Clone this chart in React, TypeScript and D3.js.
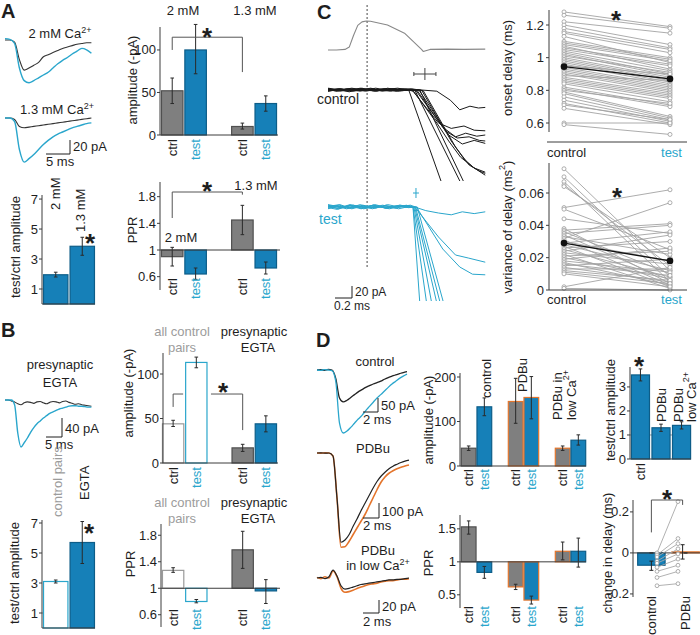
import React from "react";
import * as d3 from "d3";

const FONT = "'Liberation Sans', Arial, Helvetica, sans-serif";
const INK = "#1e1e1e";
const AXIS = "#3c3c3c";
const BLUE = "#1680b8";
const BLUE_EDGE = "#0d5d88";
const CYAN = "#2aa6cc";
const GRAY = "#7f7f7f";
const GRAY_EDGE = "#505050";
const ORANGE = "#e4752c";
const PALE = "#9c9c9c";

// ================= DATA =================
// Panel A traces (pA, 1 ms samples)
const aTrace2mMCtrl = [0, 0, -3, -28, -43, -40, -36, -32, -24, -21, -18, -15, -12, -10, -8, -6, -5, -4, -4];
const aTrace2mMTest = [2, 1, -5, -40, -58, -61, -58, -54, -50, -46, -40, -34, -29, -25, -20, -16, -12, -14, -19];
const aTrace13Ctrl = [0, 0, -2, -12, -14, -13, -12, -11, -10, -9, -8, -7, -6, -5, -4, -3, -2, -1, 0];
const aTrace13Test = [0, 0, -5, -45, -63, -58, -52, -45, -38, -32, -27, -23, -20, -17, -14, -12, -10, -8, -7];

const pairLabels = ["ctrl", "test", "ctrl", "test"];
const pairLabelColors = [INK, CYAN, INK, CYAN];

const aAmpValues = [52, 100, 10, 37];
const aAmpLo = [37, 72, 7, 28];
const aAmpHi = [67, 130, 14, 46];
const ampTicks = [0, 50, 100];

const aRatioValues = [1.95, 3.85];
const aRatioLo = [1.8, 3.25];
const aRatioHi = [2.12, 4.45];
const ratioTicks = [1, 3, 5, 7];

const aPprValues = [0.9, 0.64, 1.45, 0.73];
const aPprLo = [0.76, 0.56, 1.23, 0.64];
const aPprHi = [1.04, 0.73, 1.67, 0.82];
const pprTicks = [0.6, 1, 1.4, 1.8];

// Panel B
const bTraceCtrl = [0, 0, -2, -4, -8, -10, -6, -4, -5, -7, -4, -3, -6, -8, -5, -3, -4, -6, -3, -2, -5, -7, -9, -8, -10, -11, -12, -13];
const bTraceTest = [0, 0, 0, -10, -70, -99, -90, -80, -68, -58, -50, -44, -38, -33, -28, -25, -22, -19, -17, -15, -13, -12, -12, -13, -13, -14, -15, -15];

const bAmpValues = [44, 113, 17, 44];
const bAmpLo = [41, 107, 13, 35];
const bAmpHi = [48, 119, 21, 53];

const bRatioValues = [3.1, 5.7];
const bRatioLo = [3.0, 4.3];
const bRatioHi = [3.2, 7.1];

const bPprValues = [1.27, 0.8, 1.58, 0.96];
const bPprLo = [1.24, 0.78, 1.3, 0.77];
const bPprHi = [1.31, 0.83, 1.86, 1.13];

// Panel C: presynaptic AP (normalised) as [ms, value]
const cAP: [number, number][] = [
  [0, 0], [0.1, 0], [0.2, 0.02], [0.25, 0.1], [0.3, 0.5], [0.35, 0.85], [0.4, 0.97], [0.45, 1.0], [0.5, 0.99],
  [0.7, 0.86], [0.9, 0.58], [1.1, 0.02], [1.12, -0.05], [1.2, 0.02], [1.4, 0.03], [1.6, 0.02], [1.85, 0.03],
];
// control traces [ms, pA]
const cControlTraces: [number, number][][] = [
  [[0, 1], [0.1, -2], [0.22, 2], [0.35, -1], [0.5, 3], [0.62, 0], [0.75, 2], [0.88, -1], [0.95, 0], [1.35, -160]],
  [[0, -2], [0.12, 1], [0.25, -3], [0.4, 2], [0.52, -1], [0.66, 2], [0.8, -2], [0.92, 1], [1.02, 0], [1.58, -160]],
  [[0, 2], [0.1, -1], [0.28, 3], [0.42, 0], [0.58, -2], [0.7, 3], [0.84, 0], [0.98, 2], [1.08, 0], [1.62, -160]],
  [[0, 0], [0.15, 2], [0.3, -2], [0.46, 2], [0.6, 0], [0.74, -2], [0.9, 2], [1.1, 0], [1.28, -2], [1.44, -17], [1.55, -33], [1.67, -27], [1.77, -30], [1.85, -29]],
  [[0, -1], [0.14, 2], [0.27, -1], [0.4, 3], [0.55, -2], [0.68, 1], [0.82, 3], [0.95, 0], [1.0, -2], [1.3, -55], [1.45, -64], [1.6, -60], [1.72, -67], [1.85, -68]],
  [[0, 1], [0.1, -1], [0.24, 1], [0.38, -2], [0.5, 2], [0.64, -1], [0.78, 2], [0.92, 0], [1.03, 0], [1.35, -62], [1.5, -78], [1.62, -72], [1.75, -77], [1.85, -75]],
  [[0, 3], [0.16, 0], [0.3, 2], [0.44, -2], [0.58, 1], [0.72, -1], [0.86, 2], [1.0, 0], [1.05, -1], [1.38, -68], [1.52, -80], [1.66, -78], [1.78, -84], [1.85, -85]],
  [[0, -1], [0.12, 2], [0.26, 0], [0.38, 3], [0.52, -1], [0.66, 2], [0.8, 0], [0.96, -1], [1.07, 0], [1.42, -75], [1.58, -90], [1.72, -84], [1.85, -89]],
  [[0, 0], [0.14, -2], [0.28, 1], [0.42, -1], [0.56, 3], [0.7, 0], [0.84, -2], [0.98, 1], [1.1, 0], [1.45, -85], [1.6, -115], [1.72, -130], [1.85, -137]],
  [[0, 2], [0.12, 0], [0.24, -2], [0.4, 1], [0.54, -1], [0.68, 2], [0.82, -1], [0.96, 0], [1.12, -1], [1.5, -95], [1.66, -125], [1.78, -135], [1.85, -139]],
  [[0, -2], [0.1, 0], [0.26, 2], [0.4, -1], [0.52, 1], [0.64, -2], [0.78, 1], [0.9, 0], [1.0, -1], [1.28, -55], [1.42, -85], [1.56, -112], [1.7, -128], [1.85, -142]],
];
const cTestTraces: [number, number][][] = [
  [[0, 2], [0.12, -3], [0.26, 3], [0.4, -2], [0.55, 4], [0.7, -1], [0.85, 3], [1.0, 0], [1.08, -160]],
  [[0, -3], [0.1, 2], [0.24, -2], [0.38, 4], [0.52, -3], [0.66, 2], [0.8, -2], [0.92, 3], [1.0, 0], [1.16, -160]],
  [[0, 1], [0.14, 4], [0.28, -3], [0.42, 2], [0.56, -2], [0.7, 4], [0.84, 0], [0.96, 2], [1.01, 0], [1.22, -160]],
  [[0, -1], [0.11, -4], [0.25, 2], [0.39, -3], [0.53, 3], [0.68, -2], [0.82, 2], [0.95, -1], [1.02, 0], [1.28, -160]],
  [[0, 4], [0.15, 0], [0.3, 3], [0.44, -2], [0.58, 2], [0.72, -3], [0.86, 1], [0.97, 3], [1.03, 0], [1.32, -160]],
  [[0, 0], [0.13, 3], [0.27, -2], [0.41, 3], [0.55, -1], [0.69, 2], [0.83, -3], [0.96, 1], [1.05, 0], [1.36, -160]],
  [[0, -2], [0.1, 1], [0.22, -3], [0.36, 2], [0.5, -2], [0.64, 3], [0.78, 0], [0.92, 2], [1.02, 0], [1.15, -6], [1.3, -10], [1.45, -13], [1.58, -8], [1.72, -11], [1.85, -8]],
  [[0, 3], [0.14, -1], [0.28, 2], [0.42, -3], [0.56, 1], [0.7, -2], [0.84, 3], [0.97, 0], [1.02, 0], [1.3, -50], [1.5, -80], [1.65, -85], [1.85, -92]],
  [[0, 1], [0.12, -2], [0.26, 4], [0.4, 0], [0.54, 3], [0.68, -2], [0.82, 1], [0.95, -1], [1.04, 0], [1.35, -70], [1.55, -100], [1.7, -112], [1.85, -113]],
];
const cOnsetMean = [1.14, 1.035]; // ms (control, test)
const cOnsetSd = [0.13, 0.035];

const onsetControl = [1.28, 1.26, 1.22, 1.2, 1.18, 1.16, 1.15, 1.13, 1.1, 1.09, 1.08, 1.07, 1.06, 1.05, 1.04, 1.03, 1.02, 1.01, 1.0, 0.99, 0.98, 0.97, 0.96, 0.95, 0.94, 0.93, 0.92, 0.91, 0.9, 0.89, 0.88, 0.87, 0.86, 0.85, 0.84, 0.82, 0.81, 0.8, 0.79, 0.78, 0.76, 0.74, 0.72, 0.71, 0.69, 0.6, 0.59];
const onsetTest = [1.19, 1.18, 1.15, 1.08, 1.06, 1.05, 1.03, 0.97, 1.0, 0.99, 0.98, 0.93, 0.96, 0.95, 0.92, 0.9, 0.89, 0.91, 0.88, 0.87, 0.86, 0.85, 0.84, 0.9, 0.83, 0.82, 0.81, 0.8, 0.79, 0.86, 0.78, 0.77, 0.76, 0.75, 0.73, 0.71, 0.7, 0.72, 0.64, 0.63, 0.62, 0.61, 0.6, 0.62, 0.59, 0.6, 0.53];
const onsetMeans = [0.945, 0.87];
const onsetErr = [0.012, 0.012];
const onsetTicks = [0.6, 0.8, 1, 1.2];

const varControl = [0.075, 0.07, 0.067, 0.065, 0.064, 0.051, 0.05, 0.044, 0.038, 0.037, 0.036, 0.035, 0.034, 0.033, 0.032, 0.031, 0.03, 0.029, 0.028, 0.027, 0.026, 0.025, 0.024, 0.023, 0.022, 0.021, 0.02, 0.019, 0.018, 0.017, 0.016, 0.015, 0.014, 0.013, 0.012, 0.011, 0.01, 0.002, 0.001];
const varTest = [0.012, 0.008, 0.005, 0.015, 0.02, 0.062, 0.025, 0.035, 0.004, 0.041, 0.01, 0.04, 0.006, 0.022, 0.054, 0.003, 0.018, 0.036, 0.012, 0.002, 0.03, 0.008, 0.034, 0.016, 0.001, 0.024, 0.007, 0.026, 0.011, 0.003, 0.009, 0.019, 0.005, 0.013, 0.006, 0.004, 0.002, 0.014, 0.0];
const varMeans = [0.029, 0.018];
const varErr = [0.002, 0.0018];
const varTicks = [0, 0.02, 0.04, 0.06];

// Panel D traces (pA, 0.5 ms samples)
const dCtrlBlack = [0, 1, -1, 2, 0, -30, -100, -114, -108, -98, -88, -78, -70, -62, -56, -50, -45, -40, -33, -27, -22, -17, -13, -9, -6];
const dCtrlTest = [0, -1, 1, 0, -2, -40, -190, -225, -218, -205, -190, -175, -162, -145, -130, -115, -100, -88, -75, -62, -50, -40, -30, -22, -15];
const dPdbuBlack = [0, 1, -1, 0, -20, -300, -595, -580, -545, -490, -440, -385, -335, -285, -235, -190, -155, -128, -105, -88, -75, -63, -54, -47];
const dPdbuOrange = [0, -1, 1, 0, -20, -300, -628, -625, -590, -545, -500, -455, -410, -355, -300, -245, -195, -160, -135, -118, -105, -95, -86, -80];
const dLowBlack = [0, 1, -1, 2, 12, 3, -12, -17, -16, -14, -12, -10, -9, -8, -7, -6, -5, -4, -3, -3, -2, -2, -1, 0];
const dLowOrange = [1, -1, 2, 0, 11, 2, -16, -22, -21, -19, -16, -14, -12, -10, -9, -8, -6, -5, -4, -4, -3, -2, -2, -1];

const dGroupLabels = ["ctrl", "test", "ctrl", "test", "ctrl", "test"];
const dGroupLabelColors = [INK, CYAN, INK, CYAN, INK, CYAN];
const dAmpValues = [40, 133, 145, 154, 40, 58];
const dAmpLo = [35, 113, 96, 106, 35, 47];
const dAmpHi = [45, 153, 197, 201, 45, 70];
const dAmpTicks = [0, 100, 200];

const dPprValues = [1.53, 0.84, 0.62, 0.42, 1.16, 1.16];
const dPprLo = [1.42, 0.75, 0.58, 0.36, 1.03, 0.92];
const dPprHi = [1.62, 0.93, 0.66, 0.48, 1.3, 1.36];
const dPprTicks = [0.5, 1, 1.5];

const dRatioValues = [3.5, 1.3, 1.4];
const dRatioLo = [3.25, 1.15, 1.25];
const dRatioHi = [3.75, 1.45, 1.55];
const dRatioTicks = [0, 1, 2, 3];

const dDelayValues = [-0.06, 0.005];
const dDelayLo = [-0.085, -0.03];
const dDelayHi = [-0.04, 0.04];
const dDelayTicks = [-0.2, 0, 0.2];
const dDelayCtrl = [0.0, -0.01, -0.02, -0.04, -0.05, -0.07, -0.09, -0.12, -0.16];
const dDelayPdbu = [0.25, 0.07, 0.045, 0.02, -0.005, -0.03, -0.06, -0.09, -0.15];

// ================= HELPERS =================
function Txt({ x, y, children, size = 13, anchor = "start", color = INK, weight = "normal" }: any) {
  return (
    <text x={x} y={y} fontSize={size} textAnchor={anchor} fill={color} fontWeight={weight} fontFamily={FONT}>
      {children}
    </text>
  );
}
function RTxt({ x, y, children, size = 13, anchor = "start", color = INK }: any) {
  return (
    <text transform={`translate(${x},${y}) rotate(-90)`} fontSize={size} textAnchor={anchor}
      dominantBaseline="central" fill={color} fontFamily={FONT}>
      {children}
    </text>
  );
}
function Star({ cx, cy, size = 26 }: any) {
  return (
    <text x={cx} y={cy + size * 0.58} fontSize={size} textAnchor="middle" fontWeight="bold" fill={INK} fontFamily={FONT}>*</text>
  );
}
const Sup = ({ t }: any) => (
  <tspan dy={-5} fontSize={9}>{t}</tspan>
);

function scalesFor(p: any) {
  const y = d3.scaleLinear().domain(p.domain).range([p.yBottom, p.yTop]);
  const x = d3.scaleBand<number>().domain(d3.range(p.nSlots)).range(p.band)
    .paddingInner(p.pad ?? 0.08).paddingOuter(0.02);
  return { x, y };
}

function BarChart(p: any) {
  const { x, y } = scalesFor(p);
  const bw = x.bandwidth();
  const fs = p.fs ?? 13;
  return (
    <g>
      {p.refLine !== undefined && (
        <line x1={p.x0} x2={p.axisEnd} y1={y(p.refLine)} y2={y(p.refLine)} stroke="#8a8a8a" strokeDasharray="2,2" strokeWidth={0.9} />
      )}
      {p.values.map((v: number, i: number) => {
        const xl = x(p.slots[i])!;
        const y1 = y(Math.max(v, p.base));
        const y2 = y(Math.min(v, p.base));
        return <rect key={"b" + i} x={xl} y={y1} width={bw} height={Math.max(0.8, y2 - y1)} fill={p.fills[i]} stroke={p.strokes[i]} strokeWidth={1.2} />;
      })}
      {p.values.map((v: number, i: number) => {
        const cx = x(p.slots[i])! + bw / 2;
        return (
          <g key={"e" + i} stroke="#2a2a2a" strokeWidth={1}>
            <line x1={cx} x2={cx} y1={y(p.lo[i])} y2={y(p.hi[i])} />
            <line x1={cx - 1.8} x2={cx + 1.8} y1={y(p.lo[i])} y2={y(p.lo[i])} />
            <line x1={cx - 1.8} x2={cx + 1.8} y1={y(p.hi[i])} y2={y(p.hi[i])} />
          </g>
        );
      })}
      <line x1={p.x0} x2={p.x0} y1={p.yTop} y2={p.yBottom} stroke={AXIS} strokeWidth={1} />
      <line x1={p.x0} x2={p.axisEnd} y1={y(p.base)} y2={y(p.base)} stroke={AXIS} strokeWidth={1} />
      {p.ticks.map((t: number) => (
        <g key={"t" + t}>
          <line x1={p.x0 - 3} x2={p.x0} y1={y(t)} y2={y(t)} stroke={AXIS} />
          <text x={p.x0 - 4} y={y(t)} fontSize={fs} textAnchor="end" dominantBaseline="central" fill={INK} fontFamily={FONT}>{String(t)}</text>
        </g>
      ))}
      {p.labels && p.labels.map((l: string, i: number) => (
        l ? <RTxt key={"l" + i} x={x(p.slots[i])! + bw / 2} y={p.labelY} anchor="end" color={p.labelColors[i]} size={p.lfs ?? 13}>{l}</RTxt> : null
      ))}
    </g>
  );
}

function SampledTrace({ values, step, xScale, yScale, color, width = 1.1 }: any) {
  const line = d3.line<number>().x((_, i) => xScale(i * step)).y((v) => yScale(v)).curve(d3.curveMonotoneX);
  return <path d={line(values) || ""} fill="none" stroke={color} strokeWidth={width} />;
}
function KeyTrace({ points, xScale, yScale, color, width = 1 }: any) {
  const line = d3.line<[number, number]>().x((d) => xScale(d[0])).y((d) => yScale(d[1]));
  return <path d={line(points) || ""} fill="none" stroke={color} strokeWidth={width} strokeLinejoin="round" />;
}

// ================= LAYOUT CONFIGS =================
const aAmpCfg = { x0: 160, yTop: 27, yBottom: 135, domain: [0, 127], band: [161, 277], nSlots: 5, slots: [0, 1, 3, 4], base: 0, axisEnd: 278, labelY: 139 };
const aPprCfg = { x0: 160, yTop: 182, yBottom: 290, domain: [0.4, 2.02], band: [161, 277], nSlots: 5, slots: [0, 1, 3, 4], base: 1, axisEnd: 280, labelY: 278 };
const aRatioCfg = { x0: 42, yTop: 195, yBottom: 304, domain: [0, 7.27], band: [43, 95], nSlots: 2, slots: [0, 1], base: 0, axisEnd: 95, refLine: 1 };
const bAmpCfg = { x0: 163, yTop: 353, yBottom: 463, domain: [0, 123.6], band: [162, 277], nSlots: 5, slots: [0, 1, 3, 4], base: 0, axisEnd: 278, labelY: 467 };
const bRatioCfg = { x0: 42, yTop: 520, yBottom: 628, domain: [0, 7.2], band: [43, 95], nSlots: 2, slots: [0, 1], base: 0, axisEnd: 95, refLine: 1 };
const bPprCfg = { x0: 161, yTop: 524, yBottom: 627, domain: [0.415, 1.97], band: [162, 277], nSlots: 5, slots: [0, 1, 3, 4], base: 1, axisEnd: 280, labelY: 609 };
const dAmpCfg = { x0: 460, yTop: 373, yBottom: 466, domain: [0, 209], band: [461, 586], nSlots: 8, slots: [0, 1, 3, 4, 6, 7], pad: 0.06, base: 0, axisEnd: 586, labelY: 469 };
const dPprCfg = { x0: 460, yTop: 515, yBottom: 608, domain: [0.3, 1.71], band: [461, 586], nSlots: 8, slots: [0, 1, 3, 4, 6, 7], pad: 0.06, base: 1, axisEnd: 586, labelY: 606 };
const dRatioCfg = { x0: 630, yTop: 367, yBottom: 459, domain: [0, 3.83], band: [631, 691], nSlots: 3, slots: [0, 1, 2], pad: 0.12, base: 0, axisEnd: 691, refLine: 1, labelY: 463 };
const dDelayCfg = { x0: 633, yTop: 500, yBottom: 597, domain: [-0.215, 0.258], band: [637, 700], nSlots: 2, slots: [0, 1], pad: 0.2, base: 0, axisEnd: 700, labelY: 596 };

function center(cfg: any, slotIdx: number) {
  const { x } = scalesFor(cfg);
  return x(cfg.slots[slotIdx])! + x.bandwidth() / 2;
}

// ================= PANELS =================
function PanelA() {
  const tx = d3.scaleLinear().domain([0, 18]).range([5, 91.4]);
  const y1 = d3.scaleLinear().domain([0, -20]).range([40, 54]);
  const y2 = d3.scaleLinear().domain([0, -20]).range([118, 132]);
  const amp = scalesFor(aAmpCfg);
  const ppr = scalesFor(aPprCfg);
  const a0 = center(aAmpCfg, 0), a3 = center(aAmpCfg, 2);
  const p0 = center(aPprCfg, 0), p3 = center(aPprCfg, 2);
  const barPx = y1(-20) - y1(0);
  const msPx = tx(5) - tx(0);
  return (
    <g>
      <Txt x={1} y={18} size={20} weight="bold">A</Txt>
      <Txt x={60} y={38} anchor="middle" size={13}>2 mM Ca<Sup t="2+" /></Txt>
      <SampledTrace values={aTrace2mMCtrl} step={1} xScale={tx} yScale={y1} color="#333" />
      <SampledTrace values={aTrace2mMTest} step={1} xScale={tx} yScale={y1} color={CYAN} width={1.4} />
      <Txt x={57} y={114} anchor="middle" size={13}>1.3 mM Ca<Sup t="2+" /></Txt>
      <SampledTrace values={aTrace13Ctrl} step={1} xScale={tx} yScale={y2} color="#333" />
      <SampledTrace values={aTrace13Test} step={1} xScale={tx} yScale={y2} color={CYAN} width={1.4} />
      <path d={`M${70 - msPx},${140 + barPx} H70 V140`} fill="none" stroke={INK} strokeWidth={1} />
      <Txt x={73} y={151} size={13}>20 pA</Txt>
      <Txt x={46} y={166} size={13}>5 ms</Txt>

      <Txt x={183} y={15} anchor="middle" size={13}>2 mM</Txt>
      <Txt x={255} y={15} anchor="middle" size={13}>1.3 mM</Txt>
      <BarChart {...aAmpCfg} ticks={ampTicks} values={aAmpValues} lo={aAmpLo} hi={aAmpHi}
        fills={[GRAY, BLUE, GRAY, BLUE]} strokes={[GRAY_EDGE, BLUE_EDGE, GRAY_EDGE, BLUE_EDGE]}
        labels={pairLabels} labelColors={pairLabelColors} />
      <path d={`M${a0},${amp.y(100)} V${amp.y(115)} H${a3} V${amp.y(74)}`} fill="none" stroke="#555" strokeWidth={1} />
      <Star cx={207} cy={31} />
      <RTxt x={132} y={80} anchor="middle" size={13}>amplitude (-pA)</RTxt>

      <BarChart {...aRatioCfg} ticks={ratioTicks} values={aRatioValues} lo={aRatioLo} hi={aRatioHi}
        fills={[BLUE, BLUE]} strokes={[BLUE_EDGE, BLUE_EDGE]} />
      <RTxt x={15} y={247} anchor="middle" size={13}>test/ctrl amplitude</RTxt>
      <RTxt x={center(aRatioCfg, 0)} y={210} anchor="start" size={13}>2 mM</RTxt>
      <RTxt x={center(aRatioCfg, 1) - 2} y={232} anchor="start" size={13}>1.3 mM</RTxt>
      <Star cx={90} cy={237} />

      <BarChart {...aPprCfg} ticks={pprTicks} values={aPprValues} lo={aPprLo} hi={aPprHi}
        fills={[GRAY, BLUE, GRAY, BLUE]} strokes={[GRAY_EDGE, BLUE_EDGE, GRAY_EDGE, BLUE_EDGE]}
        labels={pairLabels} labelColors={pairLabelColors} />
      <path d={`M${p0},${ppr.y(1.48)} V${ppr.y(1.87)} H${p3} V${ppr.y(1.83)}`} fill="none" stroke="#555" strokeWidth={1} />
      <Star cx={207} cy={185} />
      <Txt x={256} y={190} anchor="middle" size={13}>1.3 mM</Txt>
      <Txt x={181} y={242} anchor="middle" size={13}>2 mM</Txt>
      <RTxt x={132} y={230} anchor="middle" size={13}>PPR</RTxt>
    </g>
  );
}

function PanelB() {
  const tx = d3.scaleLinear().domain([0, 27]).range([5, 91.4]);
  const ty = d3.scaleLinear().domain([0, -40]).range([400, 419]);
  const amp = scalesFor(bAmpCfg);
  const c0 = center(bAmpCfg, 0), c1 = center(bAmpCfg, 1), c3 = center(bAmpCfg, 2);
  const bw = amp.x.bandwidth();
  const barPx = ty(-40) - ty(0);
  const msPx = tx(5) - tx(0);
  return (
    <g>
      <Txt x={1} y={337} size={20} weight="bold">B</Txt>
      <Txt x={60} y={369} anchor="middle" size={13}>presynaptic</Txt>
      <Txt x={60} y={387} anchor="middle" size={13}>EGTA</Txt>
      <SampledTrace values={bTraceCtrl} step={1} xScale={tx} yScale={ty} color="#333" />
      <SampledTrace values={bTraceTest} step={1} xScale={tx} yScale={ty} color={CYAN} width={1.4} />
      <path d={`M${62 - msPx},${418 + barPx} H62 V418`} fill="none" stroke={INK} strokeWidth={1} />
      <Txt x={65} y={433} size={13}>40 pA</Txt>
      <Txt x={45} y={449} size={13}>5 ms</Txt>

      <Txt x={182} y={336} anchor="middle" size={13} color={PALE}>all control</Txt>
      <Txt x={182} y={352} anchor="middle" size={13} color={PALE}>pairs</Txt>
      <Txt x={254} y={336} anchor="middle" size={13}>presynaptic</Txt>
      <Txt x={258} y={352} anchor="middle" size={13}>EGTA</Txt>
      <BarChart {...bAmpCfg} ticks={ampTicks} values={bAmpValues} lo={bAmpLo} hi={bAmpHi}
        fills={["#fff", "#fff", GRAY, BLUE]} strokes={["#9a9a9a", CYAN, GRAY_EDGE, BLUE_EDGE]}
        labels={pairLabels} labelColors={pairLabelColors} />
      <path d={`M${c0},${amp.y(63)} V${amp.y(77.5)} H${c0 + 10}`} fill="none" stroke="#555" strokeWidth={1} />
      <path d={`M${c1 + bw / 2 + 4},${amp.y(77.5)} H${c3} V${amp.y(37)}`} fill="none" stroke="#555" strokeWidth={1} />
      <Star cx={223} cy={386} />
      <RTxt x={128} y={393} anchor="middle" size={13}>amplitude (-pA)</RTxt>

      <BarChart {...bRatioCfg} ticks={ratioTicks} values={bRatioValues} lo={bRatioLo} hi={bRatioHi}
        fills={["#fff", BLUE]} strokes={[CYAN, BLUE_EDGE]} />
      <RTxt x={14} y={573} anchor="middle" size={13}>test/ctrl amplitude</RTxt>
      <RTxt x={center(bRatioCfg, 0) + 2} y={517} anchor="start" size={13} color={PALE}>control pairs</RTxt>
      <RTxt x={center(bRatioCfg, 1) + 2} y={500} anchor="start" size={13}>EGTA</RTxt>
      <Star cx={89} cy={527} />

      <Txt x={182} y={507} anchor="middle" size={13} color={PALE}>all control</Txt>
      <Txt x={182} y={523} anchor="middle" size={13} color={PALE}>pairs</Txt>
      <Txt x={254} y={507} anchor="middle" size={13}>presynaptic</Txt>
      <Txt x={258} y={523} anchor="middle" size={13}>EGTA</Txt>
      <BarChart {...bPprCfg} ticks={pprTicks} values={bPprValues} lo={bPprLo} hi={bPprHi}
        fills={["#fff", "#fff", GRAY, BLUE]} strokes={["#9a9a9a", CYAN, GRAY_EDGE, BLUE_EDGE]}
        labels={pairLabels} labelColors={pairLabelColors} />
      <RTxt x={130} y={564} anchor="middle" size={13}>PPR</RTxt>
    </g>
  );
}

function PanelC() {
  const tx = d3.scaleLinear().domain([0, 1.85]).range([328, 485.25]);
  const apY = d3.scaleLinear().domain([0, 1]).range([50, 21]);
  const ctrlY = d3.scaleLinear().domain([0, -20]).range([90, 102]);
  const testY = d3.scaleLinear().domain([0, -20]).range([207, 219]);
  const barPx = ctrlY(-20) - ctrlY(0);
  const msPx = tx(0.2) - tx(0);
  const dotX = tx(0.46);

  const pairX = d3.scalePoint().domain(["control", "test"]).range([564, 670]);
  const onY = d3.scaleLinear().domain([0.6, 1.2]).range([123, 25]);
  const varY = d3.scaleLinear().domain([0, 0.06]).range([290, 193]);
  const xc = pairX("control")!, xt = pairX("test")!;

  const pairPanel = (ctrl: number[], test: number[], means: number[], errs: number[], y: any) => (
    <g>
      {ctrl.map((v, i) => (
        <line key={"l" + i} x1={xc} x2={xt} y1={y(v)} y2={y(test[i])} stroke="#a3a3a3" strokeWidth={0.9} />
      ))}
      {ctrl.map((v, i) => (
        <g key={"p" + i}>
          <circle cx={xc} cy={y(v)} r={2} fill="#fff" stroke="#9a9a9a" strokeWidth={0.8} />
          <circle cx={xt} cy={y(test[i])} r={2} fill="#fff" stroke="#9a9a9a" strokeWidth={0.8} />
        </g>
      ))}
      <line x1={xc} x2={xt} y1={y(means[0])} y2={y(means[1])} stroke="#111" strokeWidth={1.4} />
      {[xc, xt].map((xx, i) => (
        <g key={"m" + i}>
          <line x1={xx} x2={xx} y1={y(means[i] - errs[i])} y2={y(means[i] + errs[i])} stroke="#111" strokeWidth={1.2} />
          <circle cx={xx} cy={y(means[i])} r={3.3} fill="#111" />
        </g>
      ))}
    </g>
  );

  return (
    <g>
      <Txt x={317} y={19} size={20} weight="bold">C</Txt>
      <line x1={dotX} x2={dotX} y1={5} y2={268} stroke="#333" strokeDasharray="2,2" strokeWidth={0.9} />
      <KeyTrace points={cAP} xScale={tx} yScale={apY} color="#888" width={1.1} />
      <defs>
        <clipPath id="clipCtrl"><rect x={320} y={60} width={170} height={121} /></clipPath>
        <clipPath id="clipTest"><rect x={320} y={180} width={170} height={121} /></clipPath>
      </defs>
      <g clipPath="url(#clipCtrl)">
        {cControlTraces.map((tr, i) => (
          <KeyTrace key={i} points={tr} xScale={tx} yScale={ctrlY} color="#1a1a1a" width={1} />
        ))}
      </g>
      <g clipPath="url(#clipTest)">
        {cTestTraces.map((tr, i) => (
          <KeyTrace key={i} points={tr} xScale={tx} yScale={testY} color={CYAN} width={1} />
        ))}
      </g>
      <g stroke="#444" strokeWidth={1}>
        <line x1={tx(cOnsetMean[0] - cOnsetSd[0])} x2={tx(cOnsetMean[0] + cOnsetSd[0])} y1={74} y2={74} />
        <line x1={tx(cOnsetMean[0])} x2={tx(cOnsetMean[0])} y1={68} y2={80} />
        <line x1={tx(cOnsetMean[0] - cOnsetSd[0])} x2={tx(cOnsetMean[0] - cOnsetSd[0])} y1={72} y2={76} />
        <line x1={tx(cOnsetMean[0] + cOnsetSd[0])} x2={tx(cOnsetMean[0] + cOnsetSd[0])} y1={72} y2={76} />
      </g>
      <g stroke={CYAN} strokeWidth={1}>
        <line x1={tx(cOnsetMean[1] - cOnsetSd[1])} x2={tx(cOnsetMean[1] + cOnsetSd[1])} y1={193} y2={193} />
        <line x1={tx(cOnsetMean[1])} x2={tx(cOnsetMean[1])} y1={188} y2={198} />
      </g>
      <Txt x={317} y={104} size={14}>control</Txt>
      <Txt x={319} y={224} size={14} color={CYAN}>test</Txt>
      <path d={`M${352 - msPx},${286 + barPx} H352 V286`} fill="none" stroke={INK} strokeWidth={1} />
      <Txt x={355} y={296} size={12}>20 pA</Txt>
      <Txt x={334} y={310} size={12}>0.2 ms</Txt>

      {pairPanel(onsetControl, onsetTest, onsetMeans, onsetErr, onY)}
      <line x1={549} x2={549} y1={10} y2={132} stroke={AXIS} />
      {onsetTicks.map((t) => (
        <g key={t}>
          <line x1={546} x2={549} y1={onY(t)} y2={onY(t)} stroke={AXIS} />
          <text x={544} y={onY(t)} fontSize={13} textAnchor="end" dominantBaseline="central" fontFamily={FONT} fill={INK}>{String(t)}</text>
        </g>
      ))}
      <line x1={547} x2={687} y1={142} y2={142} stroke={AXIS} />
      <Txt x={547} y={157} size={13}>control</Txt>
      <Txt x={682} y={157} size={13} anchor="end" color={CYAN}>test</Txt>
      <Star cx={616} cy={14} />
      <RTxt x={507} y={68} anchor="middle" size={13}>onset delay (ms)</RTxt>

      {pairPanel(varControl, varTest, varMeans, varErr, varY)}
      <line x1={549} x2={549} y1={163} y2={290} stroke={AXIS} />
      {varTicks.map((t) => (
        <g key={t}>
          <line x1={546} x2={549} y1={varY(t)} y2={varY(t)} stroke={AXIS} />
          <text x={544} y={varY(t)} fontSize={13} textAnchor="end" dominantBaseline="central" fontFamily={FONT} fill={INK}>{String(t)}</text>
        </g>
      ))}
      <line x1={549} x2={687} y1={290} y2={290} stroke={AXIS} />
      <Txt x={547} y={304} size={13}>control</Txt>
      <Txt x={682} y={304} size={13} anchor="end" color={CYAN}>test</Txt>
      <Star cx={617} cy={191} />
      <RTxt x={507} y={227} anchor="middle" size={13}>variance of delay (ms<Sup t="2" /><tspan dy={5}>)</tspan></RTxt>
    </g>
  );
}

function PanelD() {
  const cx = d3.scaleLinear().domain([0, 12]).range([317, 407]);
  const cy = d3.scaleLinear().domain([0, -50]).range([370, 384]);
  const px = d3.scaleLinear().domain([0, 11.5]).range([317, 409]);
  const py = d3.scaleLinear().domain([0, -100]).range([453, 468]);
  const ly = d3.scaleLinear().domain([0, -20]).range([578, 591]);
  const ctrlBar = cy(-50) - cy(0), pdbuBar = py(-100) - py(0), lowBar = ly(-20) - ly(0);
  const ms2c = cx(2) - cx(0), ms2p = px(2) - px(0);

  const del = scalesFor(dDelayCfg);
  const d0 = center(dDelayCfg, 0), d1 = center(dDelayCfg, 1);
  const pairX = d3.scalePoint().domain(["control", "PDBu"]).range([657, 678]);
  const pc = pairX("control")!, pp = pairX("PDBu")!;

  return (
    <g>
      <Txt x={316} y={347} size={20} weight="bold">D</Txt>
      <Txt x={375} y={366} anchor="middle" size={13}>control</Txt>
      <SampledTrace values={dCtrlBlack} step={0.5} xScale={cx} yScale={cy} color="#222" width={1.3} />
      <SampledTrace values={dCtrlTest} step={0.5} xScale={cx} yScale={cy} color={CYAN} width={1.3} />
      <path d={`M${378 - ms2c},${398 + ctrlBar} H378 V398`} fill="none" stroke={INK} strokeWidth={1} />
      <Txt x={381} y={410} size={13}>50 pA</Txt>
      <Txt x={363} y={424} size={13}>2 ms</Txt>

      <Txt x={373} y={453} anchor="middle" size={13}>PDBu</Txt>
      <SampledTrace values={dPdbuOrange} step={0.5} xScale={px} yScale={py} color={ORANGE} width={1.6} />
      <SampledTrace values={dPdbuBlack} step={0.5} xScale={px} yScale={py} color="#222" width={1.2} />
      <path d={`M${379 - ms2p},${503 + pdbuBar} H379 V503`} fill="none" stroke={INK} strokeWidth={1} />
      <Txt x={382} y={516} size={13}>100 pA</Txt>
      <Txt x={363} y={530} size={13}>2 ms</Txt>

      <Txt x={378} y={555} anchor="middle" size={13}>PDBu</Txt>
      <Txt x={378} y={570} anchor="middle" size={13}>in low Ca<Sup t="2+" /></Txt>
      <SampledTrace values={dLowOrange} step={0.5} xScale={px} yScale={ly} color={ORANGE} width={1.6} />
      <SampledTrace values={dLowBlack} step={0.5} xScale={px} yScale={ly} color="#222" width={1.2} />
      <path d={`M${379 - ms2p},${600 + lowBar} H379 V600`} fill="none" stroke={INK} strokeWidth={1} />
      <Txt x={382} y={611} size={13}>20 pA</Txt>
      <Txt x={363} y={626} size={13}>2 ms</Txt>

      <BarChart {...dAmpCfg} ticks={dAmpTicks} values={dAmpValues} lo={dAmpLo} hi={dAmpHi}
        fills={[GRAY, BLUE, GRAY, BLUE, GRAY, BLUE]} strokes={[GRAY_EDGE, BLUE_EDGE, ORANGE, ORANGE, ORANGE, BLUE_EDGE]}
        labels={dGroupLabels} labelColors={dGroupLabelColors} />
      <RTxt x={428} y={420} anchor="middle" size={13}>amplitude (-pA)</RTxt>
      <RTxt x={center(dAmpCfg, 1) + 2} y={398} anchor="start" size={13}>control</RTxt>
      <RTxt x={center(dAmpCfg, 3) - 9} y={392} anchor="start" size={13}>PDBu</RTxt>
      <RTxt x={557} y={420} anchor="start" size={13}>PDBu in</RTxt>
      <RTxt x={571} y={420} anchor="start" size={13}>low Ca<Sup t="2+" /></RTxt>

      <BarChart {...dPprCfg} ticks={dPprTicks} values={dPprValues} lo={dPprLo} hi={dPprHi}
        fills={[GRAY, BLUE, GRAY, BLUE, GRAY, BLUE]} strokes={[GRAY_EDGE, BLUE_EDGE, ORANGE, ORANGE, ORANGE, BLUE_EDGE]}
        labels={dGroupLabels} labelColors={dGroupLabelColors} />
      <RTxt x={428} y={563} anchor="middle" size={13}>PPR</RTxt>

      <BarChart {...dRatioCfg} ticks={dRatioTicks} values={dRatioValues} lo={dRatioLo} hi={dRatioHi}
        fills={[BLUE, BLUE, BLUE]} strokes={[BLUE_EDGE, BLUE_EDGE, BLUE_EDGE]}
        labels={["ctrl", "", ""]} labelColors={[INK, INK, INK]} />
      <RTxt x={610} y={410} anchor="middle" size={13}>test/ctrl amplitude</RTxt>
      <Star cx={639} cy={360} />
      <RTxt x={center(dRatioCfg, 1)} y={422} anchor="start" size={13}>PDBu</RTxt>
      <RTxt x={678} y={422} anchor="start" size={13}>PDBu</RTxt>
      <RTxt x={691} y={422} anchor="start" size={13}>low Ca<Sup t="2+" /></RTxt>

      <BarChart {...dDelayCfg} ticks={dDelayTicks} values={dDelayValues} lo={[0, 0]} hi={[0, 0]}
        fills={[BLUE, ORANGE]} strokes={[BLUE_EDGE, ORANGE]}
        labels={["control", "PDBu"]} labelColors={[INK, INK]} />
      {dDelayCtrl.map((v, i) => (
        <line key={"dl" + i} x1={pc} x2={pp} y1={del.y(v)} y2={del.y(dDelayPdbu[i])} stroke="#a8a8a8" strokeWidth={0.9} />
      ))}
      {dDelayCtrl.map((v, i) => (
        <g key={"dp" + i}>
          <circle cx={pc} cy={del.y(v)} r={1.9} fill="#fff" stroke="#9a9a9a" strokeWidth={0.8} />
          <circle cx={pp} cy={del.y(dDelayPdbu[i])} r={1.9} fill="#fff" stroke="#9a9a9a" strokeWidth={0.8} />
        </g>
      ))}
      {dDelayValues.map((v, i) => {
        const xx = i === 0 ? d0 : d1 - 3;
        return (
          <g key={"de" + i} stroke="#222" strokeWidth={1}>
            <line x1={xx} x2={xx} y1={del.y(dDelayLo[i])} y2={del.y(dDelayHi[i])} />
            <line x1={xx - 2} x2={xx + 2} y1={del.y(dDelayLo[i])} y2={del.y(dDelayLo[i])} />
            <line x1={xx - 2} x2={xx + 2} y1={del.y(dDelayHi[i])} y2={del.y(dDelayHi[i])} />
          </g>
        );
      })}
      <path d={`M${d0},${del.y(0.1)} V${del.y(0.258)} H${d1 - 3} V${del.y(0.234)}`} fill="none" stroke="#555" strokeWidth={1} />
      <Star cx={667} cy={493} />
      <RTxt x={607} y={553} anchor="middle" size={13}>change in delay (ms)</RTxt>
    </g>
  );
}

export default function App() {
  return (
    <svg width={700} height={635} viewBox="0 0 700 635"
      style={{ position: "absolute", left: 0, top: 0, background: "#fff" }} fontFamily={FONT}>
      <rect x={0} y={0} width={700} height={635} fill="#fff" />
      <PanelA />
      <PanelB />
      <PanelC />
      <PanelD />
    </svg>
  );
}
